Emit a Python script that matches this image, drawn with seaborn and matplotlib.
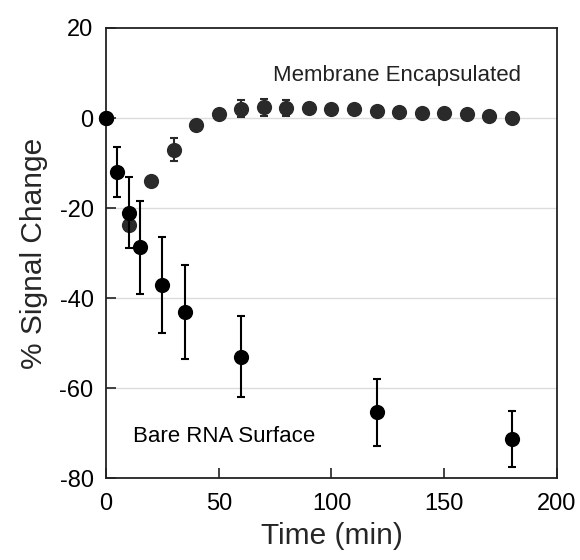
import matplotlib
matplotlib.use("Agg")
import matplotlib.pyplot as plt
import seaborn as sns
import pandas as pd

# Bare RNA Surface
bare_time = [0, 5, 10, 15, 25, 35, 60, 120, 180]
bare_signal = [0, -12.0, -21.0, -28.7, -37.1, -43.1, -53.0, -65.4, -71.3]
bare_err = [0, 5.5, 7.8, 10.3, 10.6, 10.5, 9.0, 7.5, 6.2]

# Membrane Encapsulated
mem_time = [0, 10, 20, 30, 40, 50, 60, 70, 80, 90, 100, 110, 120, 130, 140, 150, 160, 170, 180]
mem_signal = [0, -23.7, -14.0, -7.0, -1.6, 0.8, 2.1, 2.35, 2.3, 2.3, 2.0, 1.9, 1.6, 1.3, 1.2, 1.2, 0.8, 0.4, -0.1]
mem_err = [0, 1.5, 1.0, 2.5, 0.8, 0.8, 1.8, 1.85, 1.8, 1.0, 0.8, 0.6, 0.6, 0.5, 0.5, 0.5, 0.5, 0.5, 0.5]

x_ticks = [0, 50, 100, 150, 200]
y_ticks = [-80, -60, -40, -20, 0, 20]

sns.set_theme(style="ticks")
plt.rcParams["font.family"] = ["Liberation Sans", "DejaVu Sans"]

bare_df = pd.DataFrame({"time": bare_time, "signal": bare_signal, "err": bare_err})
mem_df = pd.DataFrame({"time": mem_time, "signal": mem_signal, "err": mem_err})

fig = plt.figure(figsize=(5.8, 5.6), dpi=100)
ax = fig.add_axes([0.1828, 0.1464, 0.7775, 0.8036])

for yv in [-60, -40, -20, 0]:
    ax.axhline(yv, color="#dcdcdc", lw=1.0, zorder=0)

mem_col = "#2a2a2a"
ax.errorbar(mem_df["time"], mem_df["signal"], yerr=mem_df["err"], fmt="none",
            ecolor=mem_col, elinewidth=1.5, capsize=3.2, capthick=1.5, zorder=2)
sns.scatterplot(data=mem_df, x="time", y="signal", ax=ax, color=mem_col, s=120,
                linewidth=0, zorder=3, legend=False)

ax.errorbar(bare_df["time"], bare_df["signal"], yerr=bare_df["err"], fmt="none",
            ecolor="black", elinewidth=1.5, capsize=3.2, capthick=1.5, zorder=4)
sns.scatterplot(data=bare_df, x="time", y="signal", ax=ax, color="black", s=120,
                linewidth=0, zorder=5, legend=False)

ax.set_xlim(0, 200)
ax.set_ylim(-80, 20)
ax.set_xticks(x_ticks)
ax.set_yticks(y_ticks)
ax.set_xticklabels([str(v) for v in x_ticks])
ax.set_yticklabels([str(v) for v in y_ticks])
ax.tick_params(axis="both", direction="in", length=7, width=1.2, color="#222222",
               labelsize=17, labelcolor="black", pad=9)
ax.tick_params(axis="x", pad=11)
ax.tick_params(top=False, right=False, left=True, bottom=True)

for sp in ax.spines.values():
    sp.set_visible(True)
    sp.set_color("#222222")
    sp.set_linewidth(1.3)

ax.set_xlabel("Time (min)", fontsize=21.5, labelpad=5)
ax.set_ylabel("% Signal Change", fontsize=21.5, labelpad=8)

ax.text(0.37, 0.895, "Membrane Encapsulated", transform=ax.transAxes,
        fontsize=16, color="#222222", ha="left", va="center")
ax.text(0.06, 0.093, "Bare RNA Surface", transform=ax.transAxes,
        fontsize=16, color="black", ha="left", va="center")

for coll in ax.collections:
    coll.set_clip_on(False)

fig.savefig("out.png", dpi=100)
